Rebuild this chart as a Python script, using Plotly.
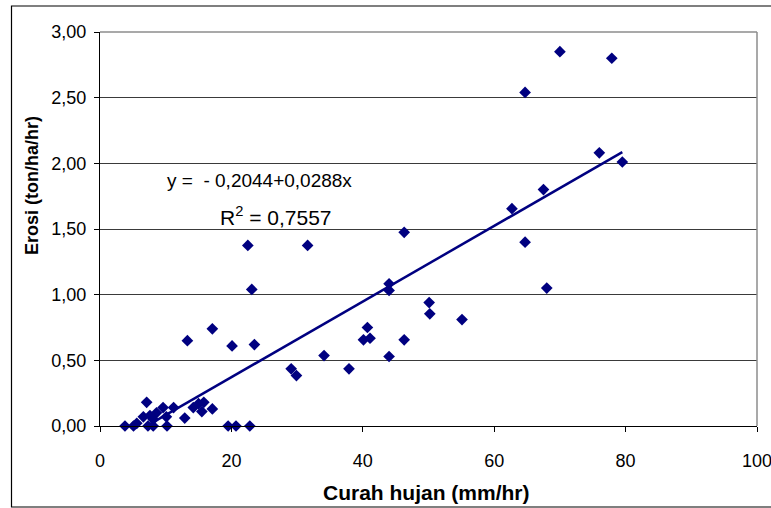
import plotly.graph_objects as go

# Rainfall (mm/hr) vs erosion (ton/ha/hr)
curah_hujan = [3.8, 5.1, 5.6, 6.6, 7.1, 7.3, 7.6, 8.1, 8.1, 8.6, 9.6, 10.1, 10.2, 11.2,
               12.9, 14.2, 15.0, 15.5, 15.8, 17.1, 19.5, 20.7, 22.8,
               13.3, 17.1, 20.1, 23.5, 22.5, 23.1, 31.6, 29.1, 29.9, 34.1, 37.9,
               40.1, 41.1, 40.7, 44.0, 44.0, 44.0, 46.3, 46.3, 50.1, 50.2, 55.1,
               62.7, 64.7, 64.7, 67.5, 68.0, 70.0, 76.0, 77.9, 79.5]
erosi = [0.00, 0.00, 0.02, 0.07, 0.18, 0.00, 0.08, 0.05, 0.00, 0.10, 0.14, 0.07, 0.00, 0.14,
         0.06, 0.14, 0.17, 0.11, 0.18, 0.13, 0.00, 0.00, 0.00,
         0.65, 0.74, 0.61, 0.62, 1.375, 1.04, 1.375, 0.435, 0.384, 0.536, 0.435,
         0.656, 0.668, 0.75, 0.529, 1.032, 1.083, 0.656, 1.475, 0.94, 0.854, 0.81,
         1.655, 1.40, 2.54, 1.80, 1.05, 2.85, 2.08, 2.80, 2.01]

intercept = -0.2044
slope = 0.0288
r2 = 0.7557

x_ticks = [0, 20, 40, 60, 80, 100]
y_ticks = [0.0, 0.5, 1.0, 1.5, 2.0, 2.5, 3.0]
y_tick_labels = ["0,00", "0,50", "1,00", "1,50", "2,00", "2,50", "3,00"]

navy = "#000080"
font_family = "Arial, Liberation Sans, sans-serif"

x_min, x_max = min(curah_hujan), max(curah_hujan)
trend_x = [x_min, x_max]
trend_y = [intercept + slope * v for v in trend_x]

fig = go.Figure()
fig.add_trace(go.Scatter(x=trend_x, y=trend_y, mode="lines",
                         line=dict(color=navy, width=2.5), hoverinfo="skip",
                         showlegend=False))
fig.add_trace(go.Scatter(x=curah_hujan, y=erosi, mode="markers",
                         marker=dict(symbol="diamond", size=9, color=navy,
                                     line=dict(width=0)),
                         cliponaxis=False, showlegend=False))

W, H = 771, 508
L, R, T, B = 100, 14, 32, 82
pw, ph = W - L - R, H - T - B


def px_x(p):
    return (p - L) / pw


def px_y(p):
    return (H - B - p) / ph


fig.update_layout(
    width=W, height=H,
    margin=dict(l=L, r=R, t=T, b=B, autoexpand=False),
    paper_bgcolor="white", plot_bgcolor="white",
    font=dict(family=font_family, color="black", size=18),
    xaxis=dict(range=[0, 100], tickvals=x_ticks, ticktext=[str(v) for v in x_ticks],
               showgrid=False, zeroline=False, showline=True, linecolor="black",
               linewidth=1, ticks="outside", ticklen=5, tickcolor="black",
               tickfont=dict(size=18), ticklabelstandoff=13,
               ticklabeloverflow="allow", automargin=False),
    yaxis=dict(range=[0, 3], tickvals=y_ticks, ticktext=y_tick_labels,
               showgrid=True, gridcolor="#3a3a3a", gridwidth=1, zeroline=False,
               showline=True, linecolor="black", linewidth=1, ticks="outside",
               ticklen=5, tickcolor="black", tickfont=dict(size=18),
               ticklabelstandoff=4, automargin=False),
    shapes=[
        dict(type="line", xref="paper", yref="paper", x0=1, x1=1, y0=0, y1=1,
             line=dict(color="#8c8c8c", width=1.5)),
        dict(type="line", xref="paper", yref="paper", x0=0, x1=1, y0=1, y1=1,
             line=dict(color="#8c8c8c", width=1.5)),
        dict(type="rect", xref="paper", yref="paper",
             x0=px_x(11.5), x1=px_x(790), y0=px_y(507), y1=px_y(6),
             line=dict(color="black", width=1.2), fillcolor="rgba(0,0,0,0)"),
    ],
    annotations=[
        dict(text="y =  - 0,2044+0,0288x", xref="paper", yref="paper",
             x=px_x(165), y=px_y(180), xanchor="left", yanchor="middle",
             showarrow=False, font=dict(size=19)),
        dict(text="R<sup>2</sup> = 0,7557", xref="paper", yref="paper",
             x=px_x(218), y=px_y(216), xanchor="left", yanchor="middle",
             showarrow=False, font=dict(size=21)),
        dict(text="<b>Curah hujan (mm/hr)</b>", xref="paper", yref="paper",
             x=px_x(426), y=px_y(492), xanchor="center", yanchor="middle",
             showarrow=False, font=dict(size=21)),
        dict(text="<b>Erosi (ton/ha/hr)</b>", xref="paper", yref="paper",
             x=px_x(32), y=px_y(186), xanchor="center", yanchor="middle",
             textangle=-90, showarrow=False, font=dict(size=18)),
    ],
)

fig.write_html("out.html")
